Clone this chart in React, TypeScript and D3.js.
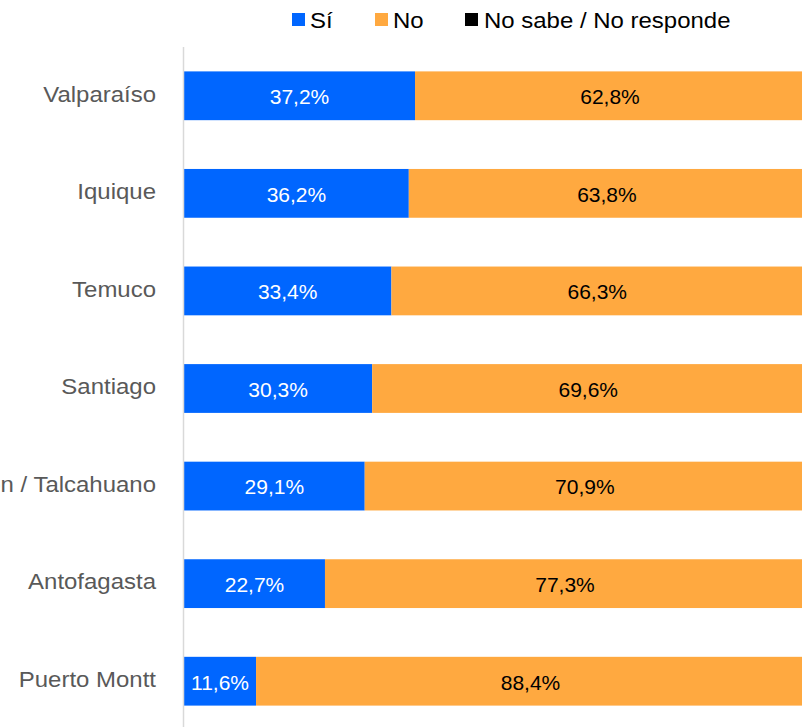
import React, { useEffect, useRef } from 'react';
import * as d3 from 'd3';

const cities = ['Valparaíso', 'Iquique', 'Temuco', 'Santiago', 'Concepción / Talcahuano', 'Antofagasta', 'Puerto Montt'];
const si = [37.2, 36.2, 33.4, 30.3, 29.1, 22.7, 11.6];
const no = [62.8, 63.8, 66.3, 69.6, 70.9, 77.3, 88.4];
const noSabe = [0, 0, 0.3, 0.1, 0, 0, 0];
const seriesNames = ['Sí', 'No', 'No sabe / No responde'];
const colors = ['#0066ff', '#ffa940', '#000000'];
const labelColors = ['#ffffff', '#000000', '#ffffff'];

const fmt = (v: number) => v.toFixed(1).replace('.', ',') + '%';

const App = () => {
  const ref = useRef<SVGSVGElement>(null);

  useEffect(() => {
    if (!ref.current) return;
    const svg = d3.select(ref.current);
    svg.selectAll('*').remove();

    const height = 727;
    const font = '"Liberation Sans", Arial, sans-serif';
    const stretch = 1.09; // reference text is a bit wider than Liberation Sans

    const x = d3.scaleLinear().domain([0, 100]).range([184, 805]);
    const y = d3.scaleBand<string>()
      .domain(cities)
      .range([47, 730])
      .paddingInner(0.5)
      .paddingOuter(0.25);

    const rows = cities.map((c, i) => ({ city: c, values: [si[i], no[i], noSabe[i]] }));

    // bars
    rows.forEach(r => {
      let acc = 0;
      r.values.forEach((v, k) => {
        if (v > 0) {
          svg.append('rect')
            .attr('x', x(acc))
            .attr('y', y(r.city)!)
            .attr('width', x(acc + v) - x(acc))
            .attr('height', y.bandwidth())
            .attr('fill', colors[k]);
          if (k < 2) {
            svg.append('text')
              .attr('x', (x(acc) + x(acc + v)) / 2)
              .attr('y', y(r.city)! + y.bandwidth() / 2)
              .attr('dy', '0.4em')
              .attr('text-anchor', 'middle')
              .attr('font-family', font)
              .attr('font-size', 21)
              .attr('fill', labelColors[k])
              .text(fmt(v));
          }
        }
        acc += v;
      });
    });

    // axis line
    svg.append('line')
      .attr('x1', 183.5).attr('x2', 183.5)
      .attr('y1', 47).attr('y2', height)
      .attr('stroke', '#d9d9d9')
      .attr('stroke-width', 1.5);

    // category labels
    svg.append('g')
      .selectAll('text')
      .data(cities)
      .join('text')
      .attr('transform', d => `translate(156,${y(d)! + y.bandwidth() / 2}) scale(${stretch},1)`)
      .attr('dy', '0.26em')
      .attr('text-anchor', 'end')
      .attr('font-family', font)
      .attr('font-size', 22)
      .attr('fill', '#595959')
      .text(d => d);

    // legend
    const legendX = [292, 375, 465];
    const legendTextX = [310, 393, 484];
    seriesNames.forEach((name, k) => {
      svg.append('rect')
        .attr('x', legendX[k]).attr('y', 13)
        .attr('width', 13).attr('height', 13)
        .attr('fill', colors[k]);
      svg.append('text')
        .attr('transform', `translate(${legendTextX[k]},28) scale(${stretch},1)`)
        .attr('font-family', font)
        .attr('font-size', 22)
        .attr('fill', '#000000')
        .text(name);
    });
  }, []);

  return (
    <svg
      ref={ref}
      width={802}
      height={727}
      style={{ position: 'absolute', left: 0, top: 0, display: 'block' }}
    ></svg>
  );
};

export default App;
